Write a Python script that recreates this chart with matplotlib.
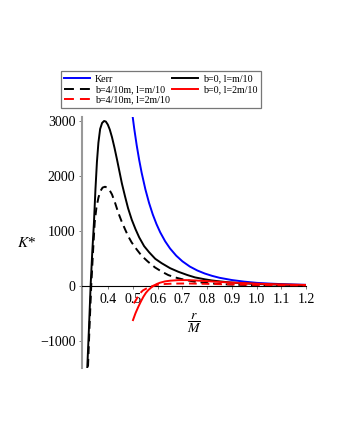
import matplotlib
matplotlib.use("Agg")
import matplotlib.pyplot as plt
from matplotlib.lines import Line2D

plt.rcParams['font.family'] = ['Liberation Serif', 'DejaVu Serif']
plt.rcParams['mathtext.fontset'] = 'stix'

# Kerr
r_kerr = [0.495, 0.505, 0.515, 0.525, 0.535, 0.55, 0.565, 0.58, 0.595, 0.61, 0.63,
          0.65, 0.675, 0.7, 0.73, 0.76, 0.79, 0.82, 0.85, 0.9, 0.95, 1.0,
          1.05, 1.1, 1.15, 1.2]
k_kerr = [3200, 2855, 2552, 2287, 2054, 1754, 1505, 1296, 1121, 972, 809,
          677, 546, 444, 349, 278, 223, 180, 145, 104, 75, 53,
          40, 30, 23, 17]

# b=0, l=m/10
r_b0_l1 = [0.313, 0.322, 0.3285, 0.335, 0.342, 0.348, 0.354, 0.36, 0.367, 0.375, 0.383,
           0.39, 0.398, 0.406, 0.415, 0.425, 0.435, 0.445, 0.455, 0.468, 0.48, 0.495,
           0.51, 0.525, 0.545, 0.565, 0.59, 0.616, 0.65, 0.683, 0.72, 0.751, 0.79,
           0.818, 0.85, 0.886, 0.92, 0.953, 1.0, 1.05, 1.1, 1.15, 1.2]
k_b0_l1 = [-1700, -750, 0, 600, 1150, 1750, 2250, 2600, 2850, 2960, 2995,
           2985, 2930, 2840, 2700, 2510, 2300, 2080, 1860, 1620, 1410, 1200,
           1030, 880, 720, 610, 490, 410, 320, 255, 195, 152, 118,
           97, 80, 63, 52, 43, 33, 26, 20, 16, 13]

# b=4/10m, l=m/10
r_b4_l1 = [0.316, 0.324, 0.331, 0.338, 0.345, 0.352, 0.36, 0.368, 0.377, 0.387, 0.395,
           0.405, 0.415, 0.428, 0.44, 0.453, 0.4675, 0.48, 0.4945, 0.515, 0.535, 0.56,
           0.589, 0.615, 0.643, 0.67, 0.697, 0.725, 0.751, 0.785, 0.818, 0.85, 0.886,
           0.95, 1.0, 1.1, 1.2]
k_b4_l1 = [-1700, -750, 0, 600, 1150, 1420, 1600, 1720, 1785, 1800, 1785,
           1740, 1660, 1500, 1333, 1180, 1030, 905, 788, 660, 545, 440,
           333, 260, 194, 152, 121, 95, 73, 56, 42, 33, 24,
           14, 10, 6, 4]

# b=0, l=2m/10
r_b0_l2 = [0.5, 0.51, 0.5215, 0.532, 0.542, 0.552, 0.562, 0.572, 0.582, 0.595, 0.609,
           0.63, 0.65, 0.683, 0.717, 0.751, 0.785, 0.818, 0.85, 0.886, 0.92, 0.953,
           1.0, 1.05, 1.1, 1.15, 1.2]
k_b0_l2 = [-624, -500, -382, -285, -200, -130, -78, -38, -5, 30, 55,
           80, 92, 102, 103, 97, 88, 79, 70, 61, 54, 48,
           38, 30, 24, 19, 15]

# b=4/10m, l=2m/10
r_b4_l2 = [0.503, 0.508, 0.518, 0.528, 0.54, 0.555, 0.568, 0.582, 0.6, 0.623, 0.66,
           0.717, 0.785, 0.85, 0.92, 1.0, 1.1, 1.2]
k_b4_l2 = [-320, -291, -210, -139, -85, -48, -20, 0, 18, 30, 39,
           42, 36, 29, 22, 16, 11, 8]

xticks = [0.4, 0.5, 0.6, 0.7, 0.8, 0.9, 1.0, 1.1, 1.2]
xticklabels = ['0.4', '0.5', '0.6', '0.7', '0.8', '0.9', '1.0', '1.1', '1.2']
yticks = [-1000, 0, 1000, 2000, 3000]
yticklabels = ['\u22121000', '0', '1000', '2000', '3000']

labels = ['Kerr', 'b=4/10m, l=m/10', 'b=4/10m, l=2m/10', 'b=0, l=m/10', 'b=0, l=2m/10']

fig = plt.figure(figsize=(3.4, 4.4), dpi=100)
ax = fig.add_axes([0.240, 0.163, 0.660, 0.572])

lw = 1.4
ax.plot(r_kerr, k_kerr, color='#0000ff', lw=lw, zorder=3)
ax.plot(r_b0_l1, k_b0_l1, color='black', lw=lw, zorder=3)
ax.plot(r_b4_l1, k_b4_l1, color='black', lw=lw, dashes=(4, 2.5), zorder=3)
ax.plot(r_b0_l2, k_b0_l2, color='#ff0000', lw=lw, zorder=4)
ax.plot(r_b4_l2, k_b4_l2, color='#ff0000', lw=lw, dashes=(4, 2.5), zorder=4)

ax.set_xlim(0.292, 1.2)
ax.set_ylim(-1500, 3075)

for s in ['top', 'right']:
    ax.spines[s].set_visible(False)
ax.spines['bottom'].set_position(('data', 0))
ax.spines['bottom'].set_linewidth(0.8)
ax.spines['bottom'].set_color('black')
ax.spines['left'].set_color('#999999')
ax.spines['left'].set_linewidth(1.5)

ax.set_xticks(xticks)
ax.set_xticklabels(xticklabels, fontsize=10)
ax.set_yticks(yticks)
ax.set_yticklabels(yticklabels, fontsize=10)
ax.tick_params(axis='x', direction='out', length=2.5, width=0.6, color='#666666', pad=3)
ax.tick_params(axis='y', direction='out', length=2.5, width=0.6, color='#666666', pad=2)

ax.text(0.747, -680, r'$\dfrac{r}{M}$', fontsize=10, ha='center', va='center')
fig.text(0.079, 0.448, r'$K$*', fontsize=11, ha='center', va='center')

leg_dash = (5.1, 3.1)
handles = [
    Line2D([], [], color='#0000ff', lw=lw),
    Line2D([], [], color='black', lw=lw, dashes=leg_dash),
    Line2D([], [], color='#ff0000', lw=lw, dashes=leg_dash),
    Line2D([], [], color='black', lw=lw),
    Line2D([], [], color='#ff0000', lw=lw),
]
leg = fig.legend(handles, labels, ncol=2,
                 loc='upper left', bbox_to_anchor=(0.1785, 0.8386), borderaxespad=0,
                 fontsize=7.2, handlelength=2.6, handletextpad=0.5, columnspacing=0.15,
                 labelspacing=0.15, borderpad=0.35, fancybox=False, framealpha=1,
                 edgecolor='#777777')
leg.get_frame().set_linewidth(0.9)

fig.savefig('out.png', dpi=100)
